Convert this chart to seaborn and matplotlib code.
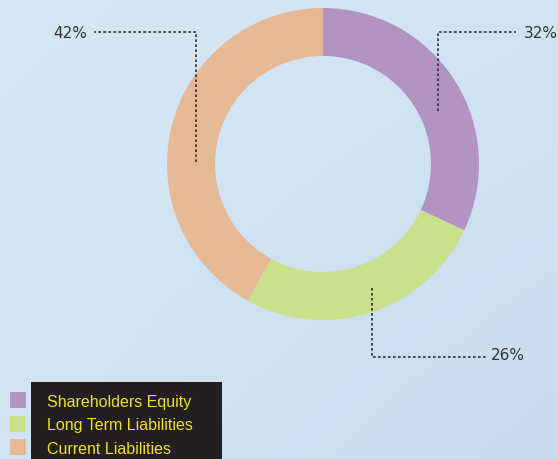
import numpy as np
import matplotlib
matplotlib.use('Agg')
import matplotlib.pyplot as plt
import seaborn as sns
from matplotlib.colors import LinearSegmentedColormap
from matplotlib.patches import Rectangle

# data
labels = ['Shareholders Equity', 'Long Term Liabilities', 'Current Liabilities']
shares = [32, 26, 42]
pct_labels = ['32%', '26%', '42%']
colors = ['#b393c4', '#cbe08a', '#e5b896']

sns.set_theme(style='white')
plt.rcParams['font.family'] = ['Liberation Sans', 'DejaVu Sans']

W, H = 558, 460
fig = plt.figure(figsize=(W / 100, H / 100), dpi=100)
ax = fig.add_axes([0, 0, 1, 1])

# light blue backdrop
bg = LinearSegmentedColormap.from_list('bg', ['#c8dcee', '#d6e8f5'])
yy, xx = np.mgrid[0:1:200j, 0:1:200j]
ax.imshow(0.5 * yy + 0.3 * (1 - xx) + 0.2 * (1 - yy) * (1 - xx),
          extent=[0, W, 0, H], cmap=bg, aspect='auto', origin='lower', zorder=0)

# donut (layout in pixel units, y measured from the top)
cx, cy, r_out, ring = 323, 165, 156, 48
wedges, _ = ax.pie(shares, colors=colors, startangle=90, counterclock=False,
                   center=(cx, H - cy), radius=r_out, frame=True,
                   wedgeprops=dict(width=ring, linewidth=0))
ax.set_xlim(0, W)
ax.set_ylim(0, H)
ax.set_aspect('equal')
ax.axis('off')

# leader lines: path points and text anchor for each slice
leaders = [
    ([(438, 112), (438, 33), (516, 33)], (524, 33), 'left'),
    ([(372, 289), (372, 358), (488, 358)], (491, 356), 'left'),
    ([(196, 163), (196, 33), (94, 33)], (87, 33), 'right'),
]
for (path, (tx, ty), ha), txt in zip(leaders, pct_labels):
    xs = [p[0] for p in path]
    ys = [H - p[1] for p in path]
    ax.plot(xs, ys, color='#333333', lw=1.2, linestyle=(0, (1.6, 1.4)), zorder=3)
    ax.text(tx, H - ty, txt, ha=ha, va='center', fontsize=11,
            family='DejaVu Sans', color='#333333', zorder=4)

# legend: black box with swatches to its left
ax.add_patch(Rectangle((31, 0), 191, H - 383, facecolor='#231f20',
                       edgecolor='none', zorder=3))
for i, (lab, col) in enumerate(zip(labels, colors)):
    top = 393 + i * 23.5
    ax.add_patch(Rectangle((10, H - top - 16), 16, 16, facecolor=col,
                           edgecolor='none', zorder=4))
    ax.text(47, H - top - 9.5, lab, ha='left', va='center', fontsize=11.5,
            color='#f0e21a', zorder=4)

fig.savefig('out.png', dpi=100)
